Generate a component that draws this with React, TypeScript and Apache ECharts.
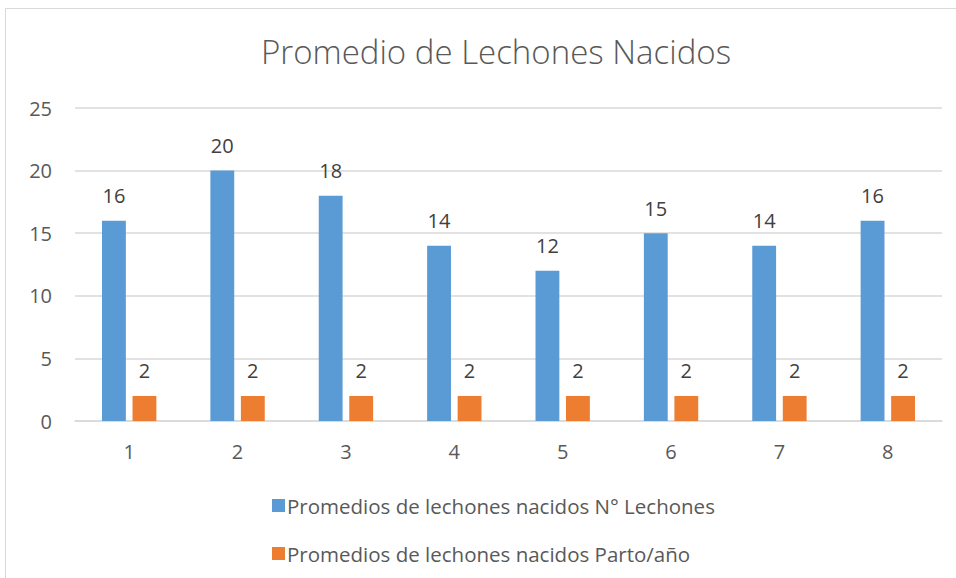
import React, { useEffect, useRef } from "react";
import * as echarts from "echarts";

const categories = ["1", "2", "3", "4", "5", "6", "7", "8"];
const lechones = [16, 20, 18, 14, 12, 15, 14, 16];
const partoAnio = [2, 2, 2, 2, 2, 2, 2, 2];
const seriesNames = [
  "Promedios de lechones nacidos N° Lechones",
  "Promedios de lechones nacidos Parto/año",
];

export default function App() {
  const ref = useRef<HTMLDivElement>(null);
  useEffect(() => {
    if (!ref.current) return;
    const chart = echarts.init(ref.current, null, { renderer: "svg" });
    const font = "'Open Sans', 'Liberation Sans', sans-serif";
    const labelStyle = {
      show: true,
      position: "top" as const,
      distance: 15,
      color: "#404040",
      fontSize: 20,
      fontFamily: font,
    };
    chart.setOption({
      animation: false,
      backgroundColor: "#ffffff",
      title: {
        text: "Promedio de Lechones Nacidos",
        left: 491,
        textAlign: "center",
        top: 30,
        textStyle: {
          color: "#595959",
          fontSize: 33,
          fontWeight: 300,
          fontFamily: font,
        },
      },
      graphic: [
        {
          type: "rect",
          shape: { x: 5.5, y: 8.5, width: 980, height: 620 },
          style: { fill: "none", stroke: "#D9D9D9", lineWidth: 1 },
          silent: true,
          z: -1,
        },
      ],
      legend: {
        orient: "vertical",
        left: 267,
        top: 490,
        itemWidth: 13,
        itemHeight: 13,
        itemGap: 27,
        icon: "rect",
        textStyle: { color: "#595959", fontSize: 20.5, fontFamily: font, padding: [0, 0, 0, -3] },
        data: seriesNames,
      },
      grid: { left: 75, right: 14, top: 108, bottom: 157 },
      xAxis: {
        type: "category",
        data: categories,
        axisLine: { lineStyle: { color: "#D9D9D9", width: 1.5 } },
        axisTick: { show: false },
        axisLabel: { color: "#595959", fontSize: 20, fontFamily: font, margin: 20 },
      },
      yAxis: {
        type: "value",
        min: 0,
        max: 25,
        interval: 5,
        axisLine: { show: false },
        axisTick: { show: false },
        splitLine: { lineStyle: { color: "#D9D9D9", width: 1.5 } },
        axisLabel: { color: "#595959", fontSize: 20, fontFamily: font, margin: 23 },
      },
      series: [
        {
          name: seriesNames[0],
          type: "bar",
          data: lechones,
          barWidth: "22%",
          barGap: "28%",
          itemStyle: { color: "#5B9BD5" },
          label: labelStyle,
        },
        {
          name: seriesNames[1],
          type: "bar",
          data: partoAnio,
          barWidth: "22%",
          itemStyle: { color: "#ED7D31" },
          label: labelStyle,
        },
      ],
    });
    return () => chart.dispose();
  }, []);
  return (
    <div
      ref={ref}
      style={{ position: "fixed", left: 0, top: 0, width: 956, height: 578 }}
    />
  );
}
